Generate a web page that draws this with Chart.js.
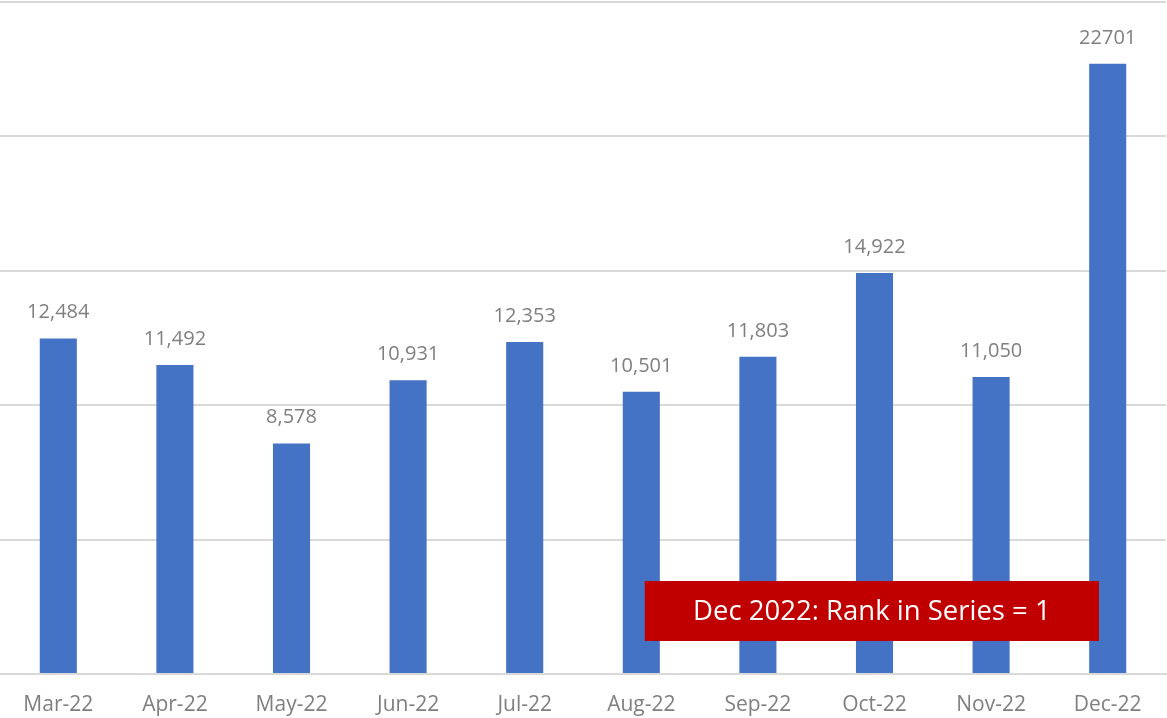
<!DOCTYPE html>
<html>
<head>
<meta charset="utf-8">
<script src="https://cdn.jsdelivr.net/npm/chart.js@4"></script>
<style>
  html, body { margin: 0; padding: 0; background: #fff; }
  #wrap { width: 1167px; height: 718px; }
</style>
</head>
<body>
<div id="wrap"><canvas id="chart" width="1167" height="718"></canvas></div>
<script>
const months = ["Mar-22", "Apr-22", "May-22", "Jun-22", "Jul-22", "Aug-22", "Sep-22", "Oct-22", "Nov-22", "Dec-22"];
const values = [12484, 11492, 8578, 10931, 12353, 10501, 11803, 14922, 11050, 22701];
const valueLabels = ["12,484", "11,492", "8,578", "10,931", "12,353", "10,501", "11,803", "14,922", "11,050", "22701"];
const yTicks = [0, 5000, 10000, 15000, 20000, 25000];
const note = "Dec 2022: Rank in Series = 1";

// value labels above bars
const barLabels = {
  id: "barLabels",
  afterDatasetsDraw(chart) {
    const ctx = chart.ctx;
    const meta = chart.getDatasetMeta(0);
    ctx.save();
    ctx.font = "20px 'Open Sans'";
    ctx.fillStyle = "#7f7f7f";
    ctx.textAlign = "center";
    ctx.textBaseline = "alphabetic";
    meta.data.forEach((bar, i) => {
      ctx.fillText(valueLabels[i], bar.x, bar.y - 20);
    });
    ctx.restore();
  }
};

// red callout box
const callout = {
  id: "callout",
  afterDraw(chart) {
    const ctx = chart.ctx;
    const a = chart.chartArea;
    const w = a.right - a.left;
    const x0 = a.left + w * 0.553, x1 = a.left + w * 0.9425;
    const y0 = 581, y1 = 641;
    ctx.save();
    ctx.fillStyle = "#c00000";
    ctx.fillRect(x0, y0, x1 - x0, y1 - y0);
    ctx.fillStyle = "#ffffff";
    ctx.font = "27.5px 'Open Sans'";
    ctx.textAlign = "center";
    ctx.textBaseline = "middle";
    ctx.fillText(note, (x0 + x1) / 2, (y0 + y1) / 2 + 1);
    ctx.restore();
  }
};

new Chart(document.getElementById("chart").getContext("2d"), {
  type: "bar",
  data: {
    labels: months,
    datasets: [{
      data: values,
      backgroundColor: "#4472c4",
      borderWidth: 0,
      categoryPercentage: 1,
      barPercentage: 0.318
    }]
  },
  options: {
    responsive: false,
    animation: false,
    layout: { padding: { top: 2, left: 0, right: 1, bottom: 0 } },
    plugins: { legend: { display: false }, tooltip: { enabled: false } },
    scales: {
      x: {
        grid: { display: false },
        border: { color: "#d9d9d9", width: 2 },
        ticks: { color: "#7f7f7f", font: { family: "'Open Sans'", size: 21 }, padding: 10 },
        afterFit(scale) { scale.height = 44; }
      },
      y: {
        min: 0,
        max: 25000,
        afterBuildTicks(scale) { scale.ticks = yTicks.map(v => ({ value: v })); },
        grid: { color: "#d9d9d9", lineWidth: 2, drawTicks: false },
        border: { display: false },
        ticks: { display: false },
        afterFit(scale) { scale.width = 0; }
      }
    }
  },
  plugins: [barLabels, callout]
});
</script>
</body>
</html>
